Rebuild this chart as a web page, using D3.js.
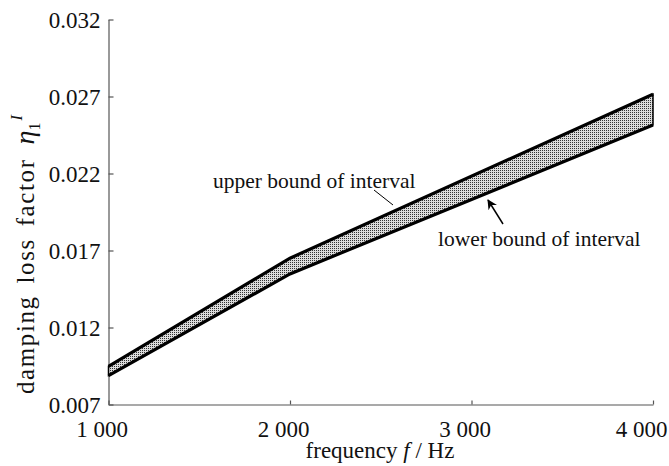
<!DOCTYPE html>
<html><head><meta charset="utf-8">
<script src="https://cdn.jsdelivr.net/npm/d3@7"></script>
<style>body{margin:0;background:#fff}svg{display:block}</style>
</head><body><svg id="c" width="669" height="466"></svg>
<script>
const frequencies = [1000, 2000, 4000];
const upperBound = [0.00947, 0.01650, 0.02715];
const lowerBound = [0.00888, 0.01548, 0.02515];
const xTicks = [1000, 2000, 3000, 4000];
const xTickLabels = ["1 000", "2 000", "3 000", "4 000"];
const yTicks = [0.007, 0.012, 0.017, 0.022, 0.027, 0.032];
const yTickLabels = ["0.007", "0.012", "0.017", "0.022", "0.027", "0.032"];

const svg = d3.select("#c");
const font = "'Liberation Serif', 'Times New Roman', serif";
const x = d3.scaleLinear().domain([1000, 4000]).range([108.5, 653]);
const y = d3.scaleLinear().domain([0.007, 0.032]).range([404.5, 19.5]);

const defs = svg.append("defs");
const pat = defs.append("pattern").attr("id", "dots").attr("patternUnits", "userSpaceOnUse")
  .attr("width", 2).attr("height", 2);
pat.append("rect").attr("width", 2).attr("height", 2).attr("fill", "#dcdcdc");
pat.append("rect").attr("width", 1).attr("height", 1).attr("fill", "#333");

const mk = defs.append("marker").attr("id", "arr").attr("viewBox", "0 0 10 10")
  .attr("refX", 9).attr("refY", 5).attr("markerWidth", 10).attr("markerHeight", 10)
  .attr("markerUnits", "userSpaceOnUse").attr("orient", "auto");
mk.append("path").attr("d", "M0,0 L10,5 L0,10 L3,5 Z").attr("fill", "#000");

// axes
const xAxis = d3.axisBottom(x).tickValues(xTicks).tickSizeInner(-4).tickSizeOuter(0)
  .tickFormat((d, i) => xTickLabels[i]);
const gx = svg.append("g").attr("transform", `translate(0,${y(0.007)})`).call(xAxis);
const yAxis = d3.axisLeft(y).tickValues(yTicks).tickSizeInner(-5).tickSizeOuter(0)
  .tickFormat((d, i) => yTickLabels[i]).tickPadding(8);
const gy = svg.append("g").attr("transform", `translate(${x(1000)},0)`).call(yAxis);
[gx, gy].forEach(g => {
  g.select(".domain").attr("stroke", "#555").attr("stroke-width", 1.2);
  g.selectAll(".tick line").attr("stroke", "#555").attr("stroke-width", 1.2);
  g.selectAll("text").attr("font-family", font).attr("font-size", 23).attr("fill", "#111");
});
gy.selectAll("text").attr("dy", "0.35em");
gx.selectAll("text").attr("y", 32).attr("dy", 0).attr("dx", -7);
gx.select(".tick:last-of-type text").attr("dx", -12);

// band
const pts = frequencies.map((f, i) => [x(f), y(upperBound[i])])
  .concat(frequencies.map((f, i) => [x(f), y(lowerBound[i])]).reverse());
svg.append("path").attr("d", d3.line()(pts) + "Z").attr("fill", "url(#dots)")
  .attr("stroke", "#000").attr("stroke-width", 1.5).attr("stroke-linejoin", "miter");
const line = d3.line().x((d, i) => x(frequencies[i])).y(d => y(d));
svg.append("path").attr("d", line(upperBound)).attr("fill", "none").attr("stroke", "#000").attr("stroke-width", 3.2);
svg.append("path").attr("d", line(lowerBound)).attr("fill", "none").attr("stroke", "#000").attr("stroke-width", 3.2);

// annotations
svg.append("text").attr("x", 213).attr("y", 188).attr("font-family", font).attr("font-size", 21.5)
  .attr("fill", "#111").text("upper bound of interval");
svg.append("line").attr("x1", 374).attr("y1", 190).attr("x2", 393).attr("y2", 205)
  .attr("stroke", "#000").attr("stroke-width", 1);
svg.append("text").attr("x", 438).attr("y", 246).attr("font-family", font).attr("font-size", 21.5)
  .attr("fill", "#111").text("lower bound of interval");
svg.append("line").attr("x1", 503).attr("y1", 224).attr("x2", 488).attr("y2", 200)
  .attr("stroke", "#000").attr("stroke-width", 1.5).attr("marker-end", "url(#arr)");

// axis titles
const xt = svg.append("text").attr("x", 380).attr("y", 458).attr("text-anchor", "middle")
  .attr("font-family", font).attr("font-size", 23).attr("fill", "#111");
xt.append("tspan").text("frequency ");
xt.append("tspan").attr("font-style", "italic").text("f");
xt.append("tspan").text(" / Hz");

const yt = svg.append("text").attr("transform", "translate(34,394) rotate(-90)").attr("text-anchor", "start")
  .attr("font-family", font).attr("font-size", 25).attr("fill", "#111");
yt.append("tspan").attr("letter-spacing", 1.6).attr("word-spacing", 4).text("damping loss factor");
yt.append("tspan").attr("dx", 14).attr("font-style", "italic").attr("font-size", 28).text("η");
yt.append("tspan").attr("font-size", 16).attr("dy", 6).text("1");
yt.append("tspan").attr("font-size", 16).attr("font-style", "italic").attr("dx", 2).attr("dy", -18).text("I");
</script></body></html>
